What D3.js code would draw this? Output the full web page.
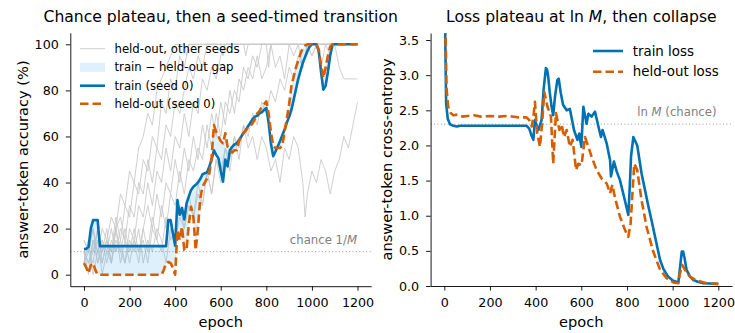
<!DOCTYPE html>
<html><head><meta charset="utf-8">
<script src="https://cdn.jsdelivr.net/npm/d3@7"></script>
<style>body{margin:0;background:#fff} svg{display:block;font-family:"DejaVu Sans",sans-serif}</style>
</head><body><svg id="c" width="735" height="333"></svg>
<script>
// ---------- DATA ----------
const epochTicks = [0, 200, 400, 600, 800, 1000, 1200];
const accTicks = [0, 20, 40, 60, 80, 100];
const lossTicks = [0.0, 0.5, 1.0, 1.5, 2.0, 2.5, 3.0, 3.5];
const chanceAcc = 10;          // 1/M with M = 10
const chanceLoss = 2.303;      // ln M

// seed 0 accuracy, every 10 epochs (0..1200)
const seed0Epochs = d3.range(0, 1201, 10);
const trainAcc = [
  11.1, 11.3, 12.0, 20.0, 23.7, 23.7, 23.7, 12.4,
  12.4, 12.4, 12.4, 12.4, 12.4, 12.4, 12.4, 12.4, 12.4, 12.4, 12.4, 12.4, 12.4, 12.4, 12.4,
  12.4, 12.4, 12.4, 12.4, 12.4, 12.4, 12.4, 12.4, 12.4, 12.4, 12.4, 12.4, 12.4, 12.4,
  23.7, 23.7, 18.0, 12.5, 32.4, 26.0, 29.0, 24.0, 31.0, 34.0, 36.8, 38.2, 39.0, 40.0,
  41.5, 43.6, 44.0, 44.4, 47.0, 50.0, 54.0, 52.0, 50.5, 45.0, 40.4, 50.0, 47.0, 54.0,
  55.5, 56.5, 57.0, 58.5, 60.0, 61.5, 62.8, 64.5, 66.0, 67.5, 68.6, 69.0, 70.0, 70.5,
  71.5, 72.3, 66.0, 57.0, 51.4, 53.5, 55.7, 58.0, 60.5, 63.0, 66.0, 68.5, 71.6, 76.0,
  80.5, 85.0, 88.5, 92.0, 94.5, 97.0, 99.0, 100, 100, 100, 97.0, 88.0, 80.3, 82.0,
  88.0, 95.0, 100,
  100, 100, 100, 100, 100, 100, 100, 100, 100, 100, 100
];
const heldAcc = [
  5.0, 3.0, 0.6, 4.0, 5.0, 2.0, 0.0,
  0, 0, 0, 0, 0, 0, 0, 0, 0, 0, 0, 0, 0, 0, 0, 0, 0, 0, 0, 0, 0, 0, 0, 0, 0, 0, 0, 0,
  2.0, 5.0, 5.5, 5.0, 3.0, 0.0, 19.4, 15.0, 20.8, 10.7, 10.7, 22.0, 29.5, 25.0, 10.7,
  20.0, 33.0, 38.2, 40.0, 41.8, 44.0, 51.0, 65.0, 62.0, 60.0, 58.0, 57.0, 61.4, 55.6,
  54.0, 53.0, 54.0, 54.0, 58.0, 60.0, 61.5, 62.5, 64.0, 64.5, 65.8, 67.5, 70.0, 71.0,
  73.0, 74.0, 75.2, 70.0, 62.0, 56.0, 55.0, 55.0, 55.0, 56.0, 62.0, 68.0, 74.0, 81.8,
  86.0, 90.0, 93.0, 96.0, 98.4, 99.5, 100, 100, 100, 100, 100, 97.6, 91.0, 85.4, 90.0,
  95.0, 99.0, 100,
  100, 100, 100, 100, 100, 100, 100, 100, 100, 100, 100
];

// held-out accuracy of other seeds: [epoch, accuracy]
const seedA = [[0,10],[20,5],[40,15],[60,10],[80,20],[100,15],[120,25],[140,20],[160,35],[180,30],[200,45],[220,40],[240,55],[260,60],[280,70],[300,65],[320,80],[340,85],[360,90],[380,95],[400,100],[440,100],[450,95],[460,100],[1200,100]];
const seedB = [[0,5],[20,15],[40,10],[60,20],[80,5],[100,15],[120,10],[140,25],[160,15],[180,30],[200,25],[220,40],[240,35],[260,50],[280,45],[300,60],[320,55],[340,75],[360,70],[380,85],[400,80],[420,95],[440,90],[460,100],[600,100],[610,95],[620,100],[1200,100]];
const seedC = [[0,15],[20,10],[40,20],[60,5],[80,15],[100,10],[120,20],[140,10],[160,15],[180,5],[200,20],[220,15],[240,30],[260,25],[280,40],[300,30],[320,45],[340,40],[360,55],[380,45],[400,60],[420,55],[440,70],[460,60],[480,75],[500,70],[520,85],[540,80],[560,90],[580,85],[600,95],[620,100],[700,100],[710,95],[720,100],[1200,100]];
const seedD = [[0,10],[20,0],[40,15],[60,5],[80,10],[100,20],[120,5],[140,15],[160,10],[180,20],[200,10],[220,15],[240,5],[260,20],[280,30],[300,20],[320,35],[340,25],[360,40],[380,35],[400,50],[420,40],[440,55],[460,45],[480,60],[500,50],[520,65],[540,55],[560,70],[580,60],[600,75],[620,65],[640,80],[660,70],[680,85],[700,80],[720,90],[740,85],[760,95],[780,85],[800,90],[820,100],[840,90],[860,95],[880,85],[900,100],[920,95],[940,100],[960,90],[980,100],[1000,95],[1020,100],[1040,90],[1060,100],[1080,95],[1100,100],[1120,90],[1140,85],[1200,85]];
const seedE = [[0,5],[20,15],[40,0],[60,10],[80,5],[100,15],[120,10],[140,20],[160,5],[180,15],[200,10],[220,20],[240,10],[260,15],[280,5],[300,20],[320,15],[340,10],[360,25],[380,15],[400,20],[420,30],[440,20],[460,35],[480,25],[500,40],[520,30],[540,45],[560,35],[580,50],[600,40],[620,55],[640,45],[660,60],[680,50],[700,65],[720,55],[740,60],[760,50],[780,60],[800,55],[820,45],[840,50],[860,40],[880,55],[900,50],[920,60],[940,55],[960,40],[970,25],[980,35],[1000,45],[1020,40],[1040,50],[1060,45],[1080,35],[1100,45],[1120,50],[1140,60],[1160,55],[1180,65],[1200,75]];
const seedF = [[0,10],[20,5],[40,10],[60,15],[80,0],[100,10],[120,5],[140,20],[160,10],[180,5],[200,15],[220,10],[240,20],[260,5],[280,15],[300,10],[320,20],[340,15],[360,5],[380,20],[400,15],[420,25],[440,20],[460,30],[480,25],[500,35],[520,30],[540,45],[560,35],[580,50],[600,45],[620,55],[640,50],[660,60],[680,55],[700,65],[720,60],[740,70],[760,65],[780,75],[800,70],[820,80],[840,75],[860,85],[880,80],[900,90],[920,85],[940,95],[960,90],[980,100],[1000,95],[1020,100],[1200,100]];
const seedG = [[0,15],[20,10],[40,5],[60,20],[80,10],[100,15],[120,5],[140,20],[160,25],[180,15],[200,30],[220,25],[240,40],[260,35],[280,50],[300,40],[320,55],[340,50],[360,65],[380,60],[400,75],[420,70],[440,80],[460,90],[480,85],[500,95],[520,90],[540,100],[800,100],[810,90],[820,100],[1200,100]];
const seedH = [[0,5],[20,10],[40,20],[60,10],[80,15],[100,5],[120,15],[140,10],[160,20],[180,15],[200,5],[220,15],[240,10],[260,20],[280,10],[300,25],[320,15],[340,30],[360,20],[380,35],[400,30],[420,45],[440,35],[460,50],[480,45],[500,55],[520,50],[540,65],[560,55],[580,70],[600,60],[620,75],[640,70],[660,80],[680,75],[700,90],[720,85],[740,95],[760,90],[780,100],[1200,100]];
const otherSeeds = [seedA, seedB, seedC, seedD, seedE, seedF, seedG, seedH];

// loss curves: [epoch, cross-entropy]
const trainLoss = [[0,4.6],[8,2.6],[15,2.38],[25,2.30],[40,2.28],[55,2.27],[70,2.28],[360,2.28],[372,2.24],[382,2.14],[390,2.08],[397,2.36],[405,2.28],[412,2.22],[420,2.30],[426,2.36],[435,2.80],[445,3.10],[450,3.08],[455,2.98],[462,2.75],[470,2.55],[477,2.43],[485,2.70],[495,2.93],[501,2.95],[510,2.75],[520,2.58],[536,2.50],[550,2.52],[568,2.22],[583,2.08],[591,2.17],[600,1.98],[609,2.55],[623,2.31],[631,2.45],[645,2.41],[660,2.48],[675,2.27],[686,2.12],[693,2.22],[711,2.03],[726,1.79],[730,1.56],[743,1.77],[756,1.62],[769,1.51],[787,1.27],[806,1.01],[812,1.40],[818,1.85],[828,2.12],[845,2.00],[864,1.60],[880,1.35],[894,1.13],[910,0.90],[923,0.70],[945,0.37],[960,0.24],[981,0.13],[1000,0.08],[1025,0.05],[1032,0.25],[1040,0.49],[1046,0.49],[1052,0.40],[1061,0.23],[1075,0.14],[1091,0.085],[1110,0.06],[1134,0.04],[1160,0.035],[1200,0.03]];
const heldLoss = [[0,4.6],[10,2.8],[17,2.55],[28,2.46],[39,2.43],[60,2.44],[80,2.41],[100,2.42],[130,2.43],[160,2.41],[200,2.42],[240,2.41],[280,2.42],[320,2.40],[360,2.40],[372,2.36],[383,2.27],[390,2.40],[397,2.62],[407,2.17],[419,1.98],[428,2.30],[438,2.76],[452,2.55],[467,2.41],[477,1.74],[489,2.46],[504,2.22],[514,2.30],[524,2.12],[536,2.22],[550,1.98],[562,2.08],[577,1.65],[587,1.74],[601,1.72],[616,2.12],[631,1.98],[645,1.84],[667,1.65],[689,1.53],[711,1.46],[726,1.32],[736,1.44],[748,1.25],[769,0.99],[791,0.80],[806,0.70],[816,0.89],[832,1.74],[845,1.65],[864,1.22],[886,0.84],[915,0.49],[945,0.23],[974,0.11],[1003,0.05],[1025,0.04],[1032,0.18],[1042,0.30],[1054,0.23],[1076,0.13],[1105,0.08],[1149,0.04],[1200,0.03]];

// ---------- STYLE ----------
const BLUE = "#0072B2", ORANGE = "#D55E00", GREY = "#cacaca", FILL = "#56B4E9";
const LW = 2.6;
const svg = d3.select("#c");

function styleAxis(g) {
  g.selectAll(".domain").attr("stroke", "#000").attr("stroke-width", 0.9);
  g.selectAll(".tick line").attr("stroke", "#000").attr("stroke-width", 0.9);
  g.selectAll(".tick text").attr("font-size", "12.7px").attr("fill", "#000")
    .attr("font-family", '"DejaVu Sans", sans-serif');
}

// ---------- LEFT PANEL ----------
const xL = d3.scaleLinear().domain([-60, 1260]).range([70.3, 371.2]);
const yL = d3.scaleLinear().domain([-5, 105]).range([286.2, 32.8]);

svg.append("defs").append("clipPath").attr("id", "clipL")
  .append("rect").attr("x", 70.3).attr("y", 32.8).attr("width", 300.9).attr("height", 253.4);

const gL = svg.append("g").attr("clip-path", "url(#clipL)");
const lineXY = (xs, ys) => d3.line().x(d => xs(d[0])).y(d => ys(d[1]));

otherSeeds.forEach(s => {
  gL.append("path").datum(s).attr("d", lineXY(xL, yL)).attr("fill", "none")
    .attr("stroke", GREY).attr("stroke-width", 0.9).attr("stroke-linejoin", "round");
});

const seed0 = seed0Epochs.map((e, i) => ({e, tr: trainAcc[i], ho: heldAcc[i]}));
gL.append("path").datum(seed0)
  .attr("d", d3.area().x(d => xL(d.e)).y0(d => yL(d.ho)).y1(d => yL(d.tr)))
  .attr("fill", FILL).attr("fill-opacity", 0.2);

gL.append("line").attr("x1", 70.3).attr("x2", 371.2).attr("y1", yL(chanceAcc)).attr("y2", yL(chanceAcc))
  .attr("stroke", "#999").attr("stroke-width", 1).attr("stroke-dasharray", "1,2.4");

gL.append("path").datum(seed0)
  .attr("d", d3.line().x(d => xL(d.e)).y(d => yL(d.tr)))
  .attr("fill", "none").attr("stroke", BLUE).attr("stroke-width", LW).attr("stroke-linejoin", "round");
gL.append("path").datum(seed0)
  .attr("d", d3.line().x(d => xL(d.e)).y(d => yL(d.ho)))
  .attr("fill", "none").attr("stroke", ORANGE).attr("stroke-width", LW)
  .attr("stroke-dasharray", "8.5,4").attr("stroke-linejoin", "round");

const chanceT = svg.append("text").attr("x", 357).attr("y", yL(chanceAcc) - 8)
  .attr("text-anchor", "end").attr("font-size", "11.7px").attr("fill", "#808080");
chanceT.append("tspan").text("chance 1/");
chanceT.append("tspan").attr("font-style", "italic").text("M");

svg.append("g").attr("transform", "translate(0,286.2)")
  .call(d3.axisBottom(xL).tickValues(epochTicks).tickFormat(d3.format("d")).tickSize(4.5).tickSizeOuter(0).tickPadding(7.5))
  .call(styleAxis);
svg.append("g").attr("transform", "translate(70.3,0)")
  .call(d3.axisLeft(yL).tickValues(accTicks).tickFormat(d3.format("d")).tickSize(4.5).tickSizeOuter(0).tickPadding(7))
  .call(styleAxis);

svg.append("text").attr("x", 220.7).attr("y", 327).attr("text-anchor", "middle")
  .attr("font-size", "14.6px").text("epoch");
svg.append("text").attr("transform", "translate(28,159.5) rotate(-90)").attr("text-anchor", "middle")
  .attr("font-size", "14.6px").text("answer-token accuracy (%)");
svg.append("text").attr("x", 220.7).attr("y", 21.5).attr("text-anchor", "middle")
  .attr("font-size", "15.6px").text("Chance plateau, then a seed-timed transition");

// left legend
const legL = svg.append("g").attr("font-size", "11.7px");
const legRows = [48.7, 67.3, 85.7, 103.7];
legL.append("line").attr("x1", 80).attr("x2", 105).attr("y1", legRows[0]).attr("y2", legRows[0])
  .attr("stroke", GREY).attr("stroke-width", 0.9);
legL.append("rect").attr("x", 80).attr("y", legRows[1] - 4.5).attr("width", 25).attr("height", 9)
  .attr("fill", FILL).attr("fill-opacity", 0.2);
legL.append("line").attr("x1", 80).attr("x2", 105).attr("y1", legRows[2]).attr("y2", legRows[2])
  .attr("stroke", BLUE).attr("stroke-width", LW);
legL.append("line").attr("x1", 80).attr("x2", 105).attr("y1", legRows[3]).attr("y2", legRows[3])
  .attr("stroke", ORANGE).attr("stroke-width", LW).attr("stroke-dasharray", "8.5,4");
["held-out, other seeds", "train \u2212 held-out gap", "train (seed 0)", "held-out (seed 0)"].forEach((t, i) => {
  legL.append("text").attr("x", 114.5).attr("y", legRows[i]).attr("dy", "0.35em").text(t);
});

// ---------- RIGHT PANEL ----------
const xR = d3.scaleLinear().domain([-60, 1260]).range([430.6, 732]);
const yR = d3.scaleLinear().domain([0, 3.6]).range([286, 33]);

svg.select("defs").append("clipPath").attr("id", "clipR")
  .append("rect").attr("x", 430.6).attr("y", 33).attr("width", 301.4).attr("height", 253);
const gR = svg.append("g").attr("clip-path", "url(#clipR)");

gR.append("line").attr("x1", 430.6).attr("x2", 732).attr("y1", yR(chanceLoss)).attr("y2", yR(chanceLoss))
  .attr("stroke", "#999").attr("stroke-width", 1).attr("stroke-dasharray", "1,2.4");
gR.append("path").datum(trainLoss).attr("d", lineXY(xR, yR)).attr("fill", "none")
  .attr("stroke", BLUE).attr("stroke-width", LW).attr("stroke-linejoin", "round");
gR.append("path").datum(heldLoss).attr("d", lineXY(xR, yR)).attr("fill", "none")
  .attr("stroke", ORANGE).attr("stroke-width", LW).attr("stroke-dasharray", "8.5,4").attr("stroke-linejoin", "round");

const lnT = svg.append("text").attr("x", 716.5).attr("y", yR(chanceLoss) - 8.5)
  .attr("text-anchor", "end").attr("font-size", "11.7px").attr("fill", "#808080");
lnT.append("tspan").text("ln ");
lnT.append("tspan").attr("font-style", "italic").text("M");
lnT.append("tspan").text(" (chance)");

svg.append("g").attr("transform", "translate(0,286)")
  .call(d3.axisBottom(xR).tickValues(epochTicks).tickFormat(d3.format("d")).tickSize(4.5).tickSizeOuter(0).tickPadding(7.5))
  .call(styleAxis);
svg.append("g").attr("transform", "translate(430.6,0)")
  .call(d3.axisLeft(yR).tickValues(lossTicks).tickFormat(d3.format(".1f")).tickSize(4.5).tickSizeOuter(0).tickPadding(7))
  .call(styleAxis);

svg.append("text").attr("x", 581.3).attr("y", 327).attr("text-anchor", "middle")
  .attr("font-size", "14.6px").text("epoch");
svg.append("text").attr("transform", "translate(392,159.5) rotate(-90)").attr("text-anchor", "middle")
  .attr("font-size", "14.6px").text("answer-token cross-entropy");
const tR = svg.append("text").attr("x", 581.3).attr("y", 21.5).attr("text-anchor", "middle")
  .attr("font-size", "15.6px");
tR.append("tspan").text("Loss plateau at ln ");
tR.append("tspan").attr("font-style", "italic").text("M");
tR.append("tspan").text(", then collapse");

// right legend
const legR = svg.append("g").attr("font-size", "13.4px");
const legRRows = [51, 71.7];
legR.append("line").attr("x1", 593).attr("x2", 623).attr("y1", legRRows[0]).attr("y2", legRRows[0])
  .attr("stroke", BLUE).attr("stroke-width", LW);
legR.append("line").attr("x1", 593).attr("x2", 623).attr("y1", legRRows[1]).attr("y2", legRRows[1])
  .attr("stroke", ORANGE).attr("stroke-width", LW).attr("stroke-dasharray", "8.5,4");
["train loss", "held-out loss"].forEach((t, i) => {
  legR.append("text").attr("x", 632.7).attr("y", legRRows[i]).attr("dy", "0.35em").text(t);
});
</script></body></html>
